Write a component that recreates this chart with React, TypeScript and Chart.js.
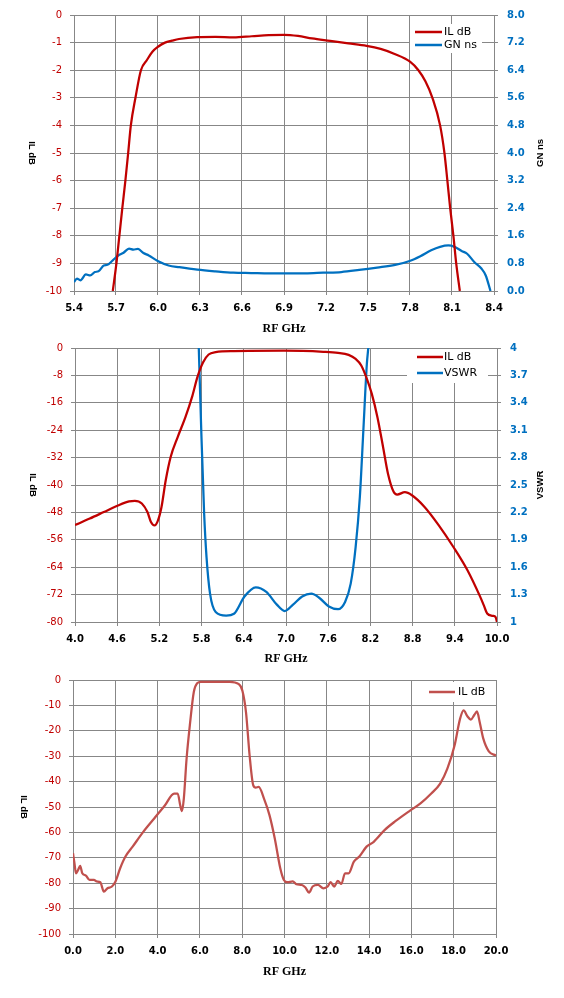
import { useEffect, useRef } from "react";
import { Chart, registerables } from "chart.js";
import type { ChartConfiguration, Plugin } from "chart.js";

Chart.register(...registerables);

// ---- panel 1: passband IL + group delay, 5.4 .. 8.4 GHz
const passFreq = [5.677, 5.703, 5.724, 5.745, 5.767, 5.787, 5.806, 5.839, 5.878, 5.921, 5.96, 6.0, 6.05, 6.1, 6.15, 6.28, 6.41, 6.54, 6.67, 6.79, 6.9, 7.0, 7.1, 7.23, 7.36, 7.49, 7.59, 7.69, 7.8, 7.86, 7.91, 7.96, 8.015, 8.046, 8.067, 8.087, 8.11, 8.13, 8.156];
const passIL = [-10, -9, -8, -7, -6, -5, -4, -3, -2, -1.63, -1.33, -1.15, -1.0, -0.93, -0.87, -0.8, -0.79, -0.81, -0.77, -0.73, -0.72, -0.76, -0.85, -0.94, -1.03, -1.12, -1.23, -1.41, -1.69, -2.0, -2.4, -3.0, -4.0, -5.0, -6.0, -7.0, -8.0, -9.0, -10];
const gdFreq = [5.4, 5.421, 5.446, 5.485, 5.516, 5.549, 5.575, 5.613, 5.639, 5.677, 5.716, 5.754, 5.793, 5.824, 5.857, 5.896, 5.934, 5.998, 6.076, 6.153, 6.281, 6.41, 6.538, 6.666, 6.795, 6.923, 7.052, 7.18, 7.309, 7.437, 7.565, 7.694, 7.797, 7.874, 7.951, 8.015, 8.074, 8.118, 8.169, 8.208, 8.259, 8.31, 8.341, 8.375];
const gdNs = [0.26, 0.36, 0.31, 0.48, 0.45, 0.55, 0.57, 0.74, 0.76, 0.89, 1.03, 1.11, 1.23, 1.2, 1.22, 1.1, 1.03, 0.87, 0.74, 0.69, 0.62, 0.57, 0.53, 0.52, 0.51, 0.51, 0.51, 0.53, 0.55, 0.61, 0.68, 0.76, 0.87, 1.01, 1.18, 1.28, 1.32, 1.28, 1.16, 1.08, 0.84, 0.65, 0.45, 0];
const passTicksX = [5.4, 5.7, 6.0, 6.3, 6.6, 6.9, 7.2, 7.5, 7.8, 8.1, 8.4];
const passTicksIL = [0, -1, -2, -3, -4, -5, -6, -7, -8, -9, -10];
const passTicksGd = [0, 0.8, 1.6, 2.4, 3.2, 4.0, 4.8, 5.6, 6.4, 7.2, 8.0];

// ---- panel 2: IL + VSWR, 4 .. 10 GHz
const wideFreq = [4.0, 4.21, 4.41, 4.62, 4.77, 4.85, 4.95, 5.03, 5.08, 5.13, 5.18, 5.23, 5.29, 5.36, 5.46, 5.57, 5.67, 5.74, 5.82, 5.9, 6.0, 6.26, 6.97, 7.53, 7.74, 7.89, 7.99, 8.07, 8.15, 8.22, 8.3, 8.38, 8.45, 8.53, 8.58, 8.69, 8.79, 8.97, 9.17, 9.38, 9.58, 9.76, 9.81, 9.86, 9.94, 9.98, 10.0];
const wideIL = [-51.7, -49.8, -47.9, -45.9, -44.8, -44.6, -45.4, -47.9, -50.8, -51.8, -50.3, -46.4, -38.6, -31.8, -26.0, -20.2, -13.9, -8.5, -4.2, -1.9, -1.2, -0.9, -0.8, -1.1, -1.4, -2.0, -3.2, -5.1, -9.0, -13.4, -20.2, -28.9, -36.7, -42.0, -42.8, -42.1, -43.0, -46.4, -51.7, -58.1, -64.9, -72.6, -75.0, -77.5, -78.2, -78.6, -80];
const vswrFreq = [5.76, 5.795, 5.836, 5.87, 5.92, 6.0, 6.15, 6.26, 6.41, 6.57, 6.72, 6.87, 6.98, 7.1, 7.23, 7.36, 7.48, 7.61, 7.74, 7.84, 7.92, 7.99, 8.05, 8.1, 8.15, 8.17];
const vswr = [4.0, 3.1, 2.19, 1.71, 1.31, 1.11, 1.07, 1.09, 1.28, 1.38, 1.33, 1.19, 1.12, 1.19, 1.28, 1.31, 1.26, 1.17, 1.14, 1.22, 1.42, 1.82, 2.37, 3.1, 3.83, 4.0];
const wideTicksX = [4.0, 4.6, 5.2, 5.8, 6.4, 7.0, 7.6, 8.2, 8.8, 9.4, 10.0];
const wideTicksIL = [0, -8, -16, -24, -32, -40, -48, -56, -64, -72, -80];
const wideTicksVswr = [1, 1.3, 1.6, 1.9, 2.2, 2.5, 2.8, 3.1, 3.4, 3.7, 4];

// ---- panel 3: IL sweep, 0 .. 20 GHz
const sweepFreq = [0.0, 0.07, 0.14, 0.24, 0.34, 0.44, 0.61, 0.78, 0.99, 1.12, 1.29, 1.46, 1.63, 1.84, 2.01, 2.23, 2.48, 2.82, 3.33, 3.84, 4.35, 4.78, 4.95, 5.07, 5.15, 5.24, 5.37, 5.54, 5.71, 5.88, 6.05, 7.41, 7.84, 8.01, 8.18, 8.35, 8.52, 8.64, 8.78, 9.03, 9.29, 9.54, 9.8, 9.97, 10.14, 10.39, 10.56, 10.82, 10.99, 11.16, 11.33, 11.58, 11.84, 12.04, 12.18, 12.35, 12.52, 12.69, 12.86, 13.03, 13.28, 13.54, 13.88, 14.22, 14.73, 15.24, 15.92, 16.43, 16.94, 17.36, 17.7, 18.04, 18.3, 18.47, 18.64, 18.81, 18.98, 19.1, 19.23, 19.4, 19.66, 20.0];
const sweepIL = [-68.2, -72.2, -76.1, -74.8, -73.2, -76.1, -77.0, -78.7, -78.7, -79.3, -79.6, -83.3, -82.0, -81.3, -79.3, -74.1, -69.5, -65.6, -59.7, -54.5, -49.3, -44.7, -44.7, -49.3, -51.6, -46.7, -31.0, -16.6, -4.8, -1.2, -0.7, -0.7, -1.6, -4.2, -12.7, -29.7, -41.4, -42.4, -42.1, -46.7, -53.2, -62.4, -74.1, -78.7, -79.6, -79.3, -80.4, -80.7, -81.7, -83.7, -81.3, -80.7, -82.0, -81.3, -79.6, -81.3, -79.1, -80.3, -76.1, -76.1, -71.5, -69.5, -65.6, -63.7, -59.1, -55.6, -51.5, -48.6, -44.7, -40.8, -34.9, -25.8, -15.3, -12.0, -14.2, -15.6, -13.7, -12.4, -16.6, -23.1, -28.1, -29.7];
const sweepTicksX = [0, 2, 4, 6, 8, 10, 12, 14, 16, 18, 20];
const sweepTicksIL = [0, -10, -20, -30, -40, -50, -60, -70, -80, -90, -100];

const RED = "#C00000";
const RED_SOFT = "#C0504D";
const BLUE = "#0070C0";
const GRID = "#878787";
const SANS = "'DejaVu Sans', Verdana, sans-serif";
const TITLE_SANS = "'Liberation Sans', Arial, sans-serif";
const SERIF = "'Liberation Serif', 'Times New Roman', serif";
const WIDTH = 564;

const points = (xs: number[], ys: number[]) => xs.map((x, i) => ({ x, y: ys[i] }));

type LegendRow = { label: string; color: string; y: number };
type FrameSpec = {
  left: { text: string; x: number };
  right?: { text: string; x: number };
  bottom: { text: string; gap: number };
  box: [number, number, number, number];
  lineX: [number, number];
  textX: number;
  rows: LegendRow[];
};

// legend box inside the plot + the axis titles (Excel-style rotation)
function frame(spec: FrameSpec): Plugin<"line"> {
  return {
    id: "frame",
    beforeDatasetsDraw(chart) {
      const { ctx } = chart;
      const [bx, by, bw, bh] = spec.box;
      ctx.save();
      ctx.fillStyle = "#fff";
      ctx.fillRect(bx, by, bw, bh);
      ctx.font = `11px ${SANS}`;
      ctx.textAlign = "left";
      ctx.textBaseline = "middle";
      for (const row of spec.rows) {
        ctx.strokeStyle = row.color;
        ctx.lineWidth = 2.5;
        ctx.beginPath();
        ctx.moveTo(spec.lineX[0], row.y);
        ctx.lineTo(spec.lineX[1], row.y);
        ctx.stroke();
        ctx.fillStyle = "#000";
        ctx.fillText(row.label, spec.textX, row.y + 0.5);
      }
      ctx.restore();
    },
    afterDraw(chart) {
      const { ctx, chartArea } = chart;
      const midX = (chartArea.left + chartArea.right) / 2;
      const midY = (chartArea.top + chartArea.bottom) / 2;
      ctx.save();
      ctx.fillStyle = "#000";
      ctx.textAlign = "center";
      ctx.textBaseline = "middle";
      ctx.font = `bold 12px ${SERIF}`;
      ctx.fillText(spec.bottom.text, midX, chartArea.bottom + spec.bottom.gap);

      ctx.font = `bold 9.5px ${TITLE_SANS}`;
      ctx.save();
      ctx.translate(spec.left.x, midY);
      ctx.rotate(Math.PI / 2);
      ctx.fillText(spec.left.text, 0, 0);
      ctx.restore();
      if (spec.right) {
        ctx.save();
        ctx.translate(spec.right.x, midY);
        ctx.rotate(-Math.PI / 2);
        ctx.fillText(spec.right.text, 0, 0);
        ctx.restore();
      }
      ctx.restore();
    },
  };
}

function xAxis(ticks: number[], height: number) {
  return {
    type: "linear" as const,
    position: "bottom" as const,
    min: ticks[0],
    max: ticks[ticks.length - 1],
    afterBuildTicks: (s: any) => {
      s.ticks = ticks.map((value) => ({ value }));
    },
    afterFit: (s: any) => {
      s.height = height;
    },
    grid: { color: GRID, tickColor: GRID, tickLength: 4, lineWidth: 1 },
    border: { color: GRID },
    ticks: {
      color: "#000",
      padding: 7,
      maxRotation: 0,
      autoSkip: false,
      font: { family: SANS, size: 10, weight: "bold" as const },
      callback: (v: any) => Number(v).toFixed(1),
    },
  };
}

function yAxis(ticks: number[], side: "left" | "right", width: number, color: string, label: (v: number) => string) {
  const lo = Math.min(...ticks);
  const hi = Math.max(...ticks);
  return {
    type: "linear" as const,
    position: side,
    min: lo,
    max: hi,
    afterBuildTicks: (s: any) => {
      s.ticks = ticks.map((value) => ({ value }));
    },
    afterFit: (s: any) => {
      s.width = width;
    },
    grid: { color: GRID, tickColor: GRID, tickLength: 4, lineWidth: 1, drawOnChartArea: side === "left" },
    border: { color: GRID },
    ticks: {
      color,
      padding: side === "left" ? 8 : 9,
      autoSkip: false,
      font: { family: SANS, size: 10, weight: side === "left" ? ("normal" as const) : ("bold" as const) },
      callback: (v: any) => label(Number(v)),
    },
  };
}

const line = (data: { x: number; y: number }[], color: string, axis: string, label: string) => ({
  label,
  data,
  yAxisID: axis,
  borderColor: color,
  backgroundColor: color,
  borderWidth: 2.25,
  pointRadius: 0,
  cubicInterpolationMode: "monotone" as const,
  fill: false,
});

const common = (top: number, right: number) => ({
  responsive: false,
  animation: false as const,
  events: [],
  layout: { padding: { top, left: 0, right, bottom: 0 } },
  plugins: { legend: { display: false }, tooltip: { enabled: false } },
});

const H1 = 333;
const H2 = 333;
const H3 = 332;

function passConfig(): ChartConfiguration<"line"> {
  return {
    type: "line",
    data: {
      datasets: [
        line(points(passFreq, passIL), RED, "y", "IL dB"),
        line(points(gdFreq, gdNs), BLUE, "y2", "GN ns"),
      ],
    },
    options: {
      ...common(15, 0),
      scales: {
        x: xAxis(passTicksX, H1 - 291),
        y: yAxis(passTicksIL, "left", 74, RED, (v) => String(v)),
        y2: yAxis(passTicksGd, "right", WIDTH - 494, BLUE, (v) => v.toFixed(1)),
      },
    } as any,
    plugins: [
      frame({
        left: { text: "IL dB", x: 31.5 },
        right: { text: "GN ns", x: 540.5 },
        bottom: { text: "RF GHz", gap: 38 },
        box: [410, 24, 72, 29],
        lineX: [415, 442],
        textX: 444,
        rows: [
          { label: "IL dB", color: RED, y: 32 },
          { label: "GN ns", color: BLUE, y: 45 },
        ],
      }),
    ],
  };
}

function wideConfig(): ChartConfiguration<"line"> {
  return {
    type: "line",
    data: {
      datasets: [
        line(points(wideFreq, wideIL), RED, "y", "IL dB"),
        line(points(vswrFreq, vswr), BLUE, "y2", "VSWR"),
      ],
    },
    options: {
      ...common(14, 0),
      scales: {
        x: xAxis(wideTicksX, H2 - 289),
        y: yAxis(wideTicksIL, "left", 75, RED, (v) => String(v)),
        y2: yAxis(wideTicksVswr, "right", WIDTH - 497, BLUE, (v) => String(Math.round(v * 10) / 10)),
      },
    } as any,
    plugins: [
      frame({
        left: { text: "IL dB", x: 33 },
        right: { text: "VSWR", x: 540 },
        bottom: { text: "RF GHz", gap: 37 },
        box: [407, 16, 81, 34],
        lineX: [417, 443],
        textX: 444,
        rows: [
          { label: "IL dB", color: RED, y: 24 },
          { label: "VSWR", color: BLUE, y: 40 },
        ],
      }),
    ],
  };
}

function sweepConfig(): ChartConfiguration<"line"> {
  return {
    type: "line",
    data: {
      datasets: [line(points(sweepFreq, sweepIL), RED_SOFT, "y", "IL dB")],
    },
    options: {
      ...common(13, WIDTH - 496),
      scales: {
        x: xAxis(sweepTicksX, H3 - 268),
        y: yAxis(sweepTicksIL, "left", 73, RED, (v) => String(v)),
      },
    } as any,
    plugins: [
      frame({
        left: { text: "IL dB", x: 24 },
        bottom: { text: "RF GHz", gap: 38 },
        box: [425, 16, 66, 20],
        lineX: [429, 455],
        textX: 458,
        rows: [{ label: "IL dB", color: RED_SOFT, y: 26 }],
      }),
    ],
  };
}

type PanelProps = {
  top: number;
  height: number;
  build: () => ChartConfiguration<"line">;
};

function Panel({ top, height, build }: PanelProps) {
  const canvasRef = useRef<HTMLCanvasElement | null>(null);

  useEffect(() => {
    if (!canvasRef.current) return;
    const chart = new Chart(canvasRef.current, build());
    return () => chart.destroy();
  }, [build]);

  return (
    <canvas
      ref={canvasRef}
      width={WIDTH}
      height={height}
      style={{ position: "absolute", left: 0, top, width: WIDTH, height }}
    />
  );
}

export default function App() {
  return (
    <div style={{ position: "absolute", left: 0, top: 0, width: WIDTH, height: 998, background: "#fff" }}>
      <Panel top={0} height={H1} build={passConfig} />
      <Panel top={H1} height={H2} build={wideConfig} />
      <Panel top={H1 + H2} height={H3} build={sweepConfig} />
    </div>
  );
}
